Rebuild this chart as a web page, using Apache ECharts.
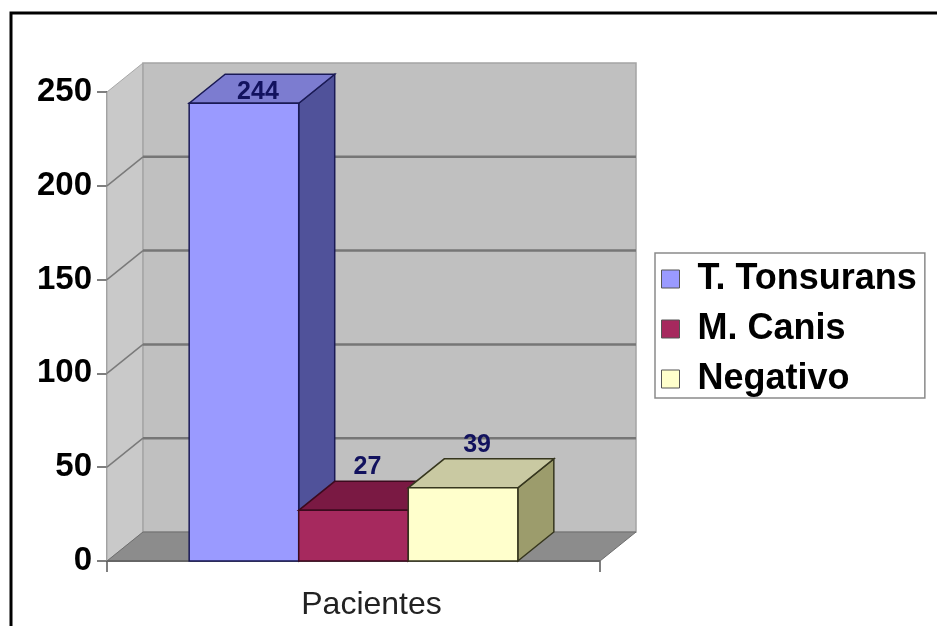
<!DOCTYPE html>
<html>
<head>
<meta charset="utf-8">
<style>
  html, body { margin: 0; padding: 0; background: #ffffff; }
  #chart { width: 937px; height: 626px; }
</style>
<script src="https://cdn.jsdelivr.net/npm/echarts@6/dist/echarts.min.js"></script>
</head>
<body>
<div id="chart"></div>
<script>
// Chart data
const categories = ['Pacientes'];
const seriesNames = ['T. Tonsurans', 'M. Canis', 'Negativo'];
const tTonsurans = [244];
const mCanis = [27];
const negativo = [39];
const yTicks = [0, 50, 100, 150, 200, 250];

// Box styling: front, top, side faces and outline for each series
const palette = [
  { front: '#9a9aff', top: '#7c7cd0', side: '#50529a', edge: '#1a1a55' },
  { front: '#a6295e', top: '#7a1943', side: '#5e1232', edge: '#3c0a1e' },
  { front: '#ffffcc', top: '#c9c9a2', side: '#9c9c6c', edge: '#36361e' }
];
const DEPTH_X = 36;   // receding offset of the 3D depth
const DEPTH_Y = -29;
const FONT = '"Liberation Sans", Arial, sans-serif';

const chart = echarts.init(document.getElementById('chart'), null, { renderer: 'canvas' });

// Back wall, side wall, floor and gridlines, all placed through the axes
function renderWalls(params, api) {
  const [cx, y0] = api.coord([0, yTicks[0]]);
  const yTop = api.coord([0, yTicks[yTicks.length - 1]])[1];
  const bw = api.size([1, 0])[0];
  const L = cx - bw / 2, R = cx + bw / 2;
  const children = [];
  // side wall
  children.push({ type: 'polygon', shape: { points: [[L, y0], [L, yTop], [L + DEPTH_X, yTop + DEPTH_Y], [L + DEPTH_X, y0 + DEPTH_Y]] },
    style: { fill: '#c9c9c9', stroke: '#a8a8a8', lineWidth: 1 } });
  // back wall
  children.push({ type: 'rect', shape: { x: L + DEPTH_X, y: yTop + DEPTH_Y, width: R - L, height: y0 - yTop },
    style: { fill: '#c0c0c0', stroke: '#a4a4a4', lineWidth: 1.5 } });
  // gridlines
  yTicks.forEach(function (v, i) {
    if (i === 0 || i === yTicks.length - 1) return;
    const y = api.coord([0, v])[1];
    children.push({ type: 'line', shape: { x1: L + DEPTH_X, y1: y + DEPTH_Y, x2: R + DEPTH_X, y2: y + DEPTH_Y },
      style: { stroke: '#767676', lineWidth: 2.5 } });
    children.push({ type: 'line', shape: { x1: L, y1: y, x2: L + DEPTH_X, y2: y + DEPTH_Y },
      style: { stroke: '#7a7a7a', lineWidth: 1.5 } });
  });
  // floor
  children.push({ type: 'polygon', shape: { points: [[L, y0], [R, y0], [R + DEPTH_X, y0 + DEPTH_Y], [L + DEPTH_X, y0 + DEPTH_Y]] },
    style: { fill: '#8c8c8c', stroke: '#6e6e6e', lineWidth: 1 } });
  children.push({ type: 'line', shape: { x1: L, y1: y0, x2: R, y2: y0 },
    style: { stroke: '#666666', lineWidth: 2 } });
  return { type: 'group', children: children };
}

// One 3D box per series, side by side within the category band
function makeBoxRenderer(idx) {
  return function (params, api) {
    const cat = api.value(0);
    const val = api.value(1);
    const [cx, y0] = api.coord([cat, 0]);
    const y1 = api.coord([cat, val])[1];
    const yMax = api.coord([cat, yTicks[yTicks.length - 1]])[1];
    const bw = api.size([1, 0])[0];
    const barW = bw / (1.5 * seriesNames.length);
    const x0 = cx - barW * seriesNames.length / 2 + idx * barW;
    const x1 = x0 + barW;
    const c = palette[idx];
    const lw = 1.5;
    let ly = y1 + DEPTH_Y - 14;
    if (ly < yMax) ly = yMax;
    return {
      type: 'group',
      children: [
        { type: 'polygon', shape: { points: [[x1, y0], [x1, y1], [x1 + DEPTH_X, y1 + DEPTH_Y], [x1 + DEPTH_X, y0 + DEPTH_Y]] },
          style: { fill: c.side, stroke: c.edge, lineWidth: lw } },
        { type: 'polygon', shape: { points: [[x0, y1], [x1, y1], [x1 + DEPTH_X, y1 + DEPTH_Y], [x0 + DEPTH_X, y1 + DEPTH_Y]] },
          style: { fill: c.top, stroke: c.edge, lineWidth: lw } },
        { type: 'rect', shape: { x: x0, y: y1, width: barW, height: y0 - y1 },
          style: { fill: c.front, stroke: c.edge, lineWidth: lw } },
        { type: 'text', x: (x0 + x1) / 2 + 14, y: ly,
          style: { text: String(val), fill: '#12125e', font: 'bold 25px ' + FONT, align: 'center', verticalAlign: 'middle' } }
      ]
    };
  };
}

const values = [tTonsurans, mCanis, negativo];

const boxSeries = seriesNames.map(function (name, i) {
  return {
    name: name,
    type: 'custom',
    z: 3,
    renderItem: makeBoxRenderer(i),
    itemStyle: { color: palette[i].front },
    encode: { x: 0, y: 1 },
    data: categories.map(function (c, k) { return [k, values[i][k]]; })
  };
});

const option = {
  backgroundColor: '#ffffff',
  animation: false,
  graphic: [{
    type: 'rect', z: 100,
    shape: { x: 11, y: 13, width: 940, height: 640 },
    style: { fill: 'none', stroke: '#000000', lineWidth: 3 }
  }],
  grid: { left: 107, top: 92, width: 493, height: 469 },
  legend: {
    orient: 'vertical',
    left: 655, top: 253,
    padding: [8, 8, 1, 6],
    borderColor: '#8a8a8a', borderWidth: 1.5,
    backgroundColor: '#ffffff',
    itemWidth: 18, itemHeight: 18, itemGap: 14,
    icon: 'rect',
    selectedMode: false,
    textStyle: { fontSize: 36, fontWeight: 'bold', color: '#000000', fontFamily: FONT, lineHeight: 36, padding: [0, 0, 0, 13] },
    data: seriesNames.map(function (n, i) {
      return { name: n, itemStyle: { color: palette[i].front, borderColor: '#555555', borderWidth: 1 } };
    })
  },
  xAxis: {
    type: 'category',
    data: categories,
    axisLine: { show: false },
    axisTick: { show: true, length: 11, lineStyle: { color: '#555555', width: 1.5 } },
    axisLabel: { fontSize: 32, color: '#222222', fontFamily: FONT, margin: 28, padding: [0, 0, 0, 36] },
    splitLine: { show: false }
  },
  yAxis: {
    type: 'value',
    min: 0, max: 250, interval: 50,
    axisLine: { show: true, lineStyle: { color: '#7a7a7a', width: 1.5 } },
    axisTick: { show: true, length: 10, lineStyle: { color: '#555555', width: 1.5 } },
    axisLabel: { fontSize: 33, fontWeight: 'bold', color: '#000000', fontFamily: FONT, margin: 15 },
    splitLine: { show: false }
  },
  series: [{
    type: 'custom',
    z: 1,
    silent: true,
    renderItem: renderWalls,
    encode: { x: 0, y: 1 },
    data: [[0, 0]]
  }].concat(boxSeries)
};

chart.setOption(option);
</script>
</body>
</html>
